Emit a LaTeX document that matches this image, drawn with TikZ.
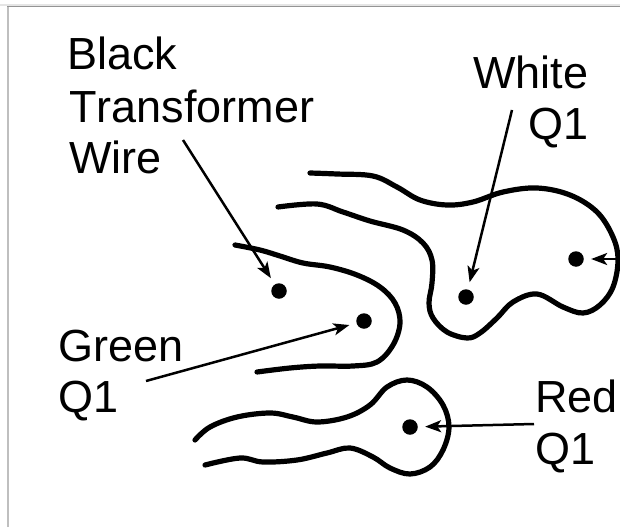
\documentclass[tikz,border=0pt]{standalone}
\usepackage{fontspec}
\setmainfont[Kerning=Off]{Liberation Sans}
\usetikzlibrary{arrows.meta,positioning}

\begin{document}
\begin{tikzpicture}[x=1pt,y=-1pt,thick]
	\tikzstyle{wire}=[line width=5.2pt,line cap=round,line join=round]
	\tikzstyle{terminal}=[circle,fill=black,draw=none,inner sep=0pt,minimum size=15.5pt]
	\tikzstyle{pointer}=[-{Stealth[length=16pt,width=12pt,inset=4pt]},line width=2.5pt,shorten >=7pt]
	\tikzstyle{caption}=[inner sep=0pt,anchor=base west,align=left,font=\fontsize{45pt}{52pt}\selectfont]

	\useasboundingbox (0,0) rectangle (620,527);
	\draw[black!10,line width=1.5pt] (0,5) -- (620,5);
	\draw[black!25,line width=1.8pt] (8,527) -- (8,6.5);
	\draw[black!42,line width=1.5pt] (7,6.5) -- (620,6.5);

	% wires
	\draw[wire] plot[smooth,tension=0.6] coordinates {(310,173) (337,174) (373,176) (397,187) (420,200) (447,205) (473,202) (503,192) (537,188) (570,195) (597,212) (613,237) (618,260) (613,287) (600,305) (583,313) (563,307) (537,294) (513,302) (497,318) (480,333) (467,338) (447,332) (433,318) (429,303) (432,283) (432,260) (423,243) (403,230) (370,221) (343,212) (317,204) (278,207)};
	\draw[wire] plot[smooth,tension=0.6] coordinates {(235,245) (260,250) (280,256) (303,263) (330,267) (357,275) (380,287) (395,303) (400,323) (393,345) (377,362) (353,366) (320,366) (290,368) (257,372)};
	\draw[wire] plot[smooth,tension=0.6] coordinates {(195,440) (210,427) (237,417) (270,413) (293,417) (317,422) (347,417) (370,405) (387,387) (407,380) (427,387) (443,405) (449,427) (443,450) (430,467) (410,474) (390,468) (373,457) (350,448) (327,453) (297,460) (263,462) (240,458) (205,465)};

	\node[terminal] (dotBlack) at (279,291) {};
	\node[terminal] (dotWhite) at (466,297) {};
	\node[terminal] (dotWhiteB) at (576,259) {};
	\node[terminal] (dotGreen) at (364,321) {};
	\node[terminal] (dotRed) at (410,427) {};

	\node[caption] (labelBlack) at (67,69) {Black};
	\node[caption] (labelTransformer) at (69,122) {Transformer};
	\node[caption] (labelWire) at (69,173) {Wire};
	\node[caption] (labelWhite) at (473,88) {White};
	\node[caption] (labelWhiteQ) at (528,139) {Q1};
	\node[caption] (labelGreen) at (58,361) {Green};
	\node[caption] (labelGreenQ) at (58,412) {Q1};
	\node[caption] (labelRed) at (535,412) {Red};
	\node[caption] (labelRedQ) at (535,464) {Q1};

	\coordinate (startBlack) at (183,140);
	\coordinate (startWhite) at (512,110);
	\coordinate (startWhiteB) at (617,259);
	\coordinate (startGreen) at (146,381);
	\coordinate (startRed) at (534,424);

	\draw[pointer] (startBlack) -- (dotBlack);
	\draw[pointer] (startWhite) -- (dotWhite);
	\draw[pointer] (startWhiteB) -- (dotWhiteB);
	\draw[pointer] (startGreen) -- (dotGreen);
	\draw[pointer] (startRed) -- (dotRed);
\end{tikzpicture}
\end{document}
